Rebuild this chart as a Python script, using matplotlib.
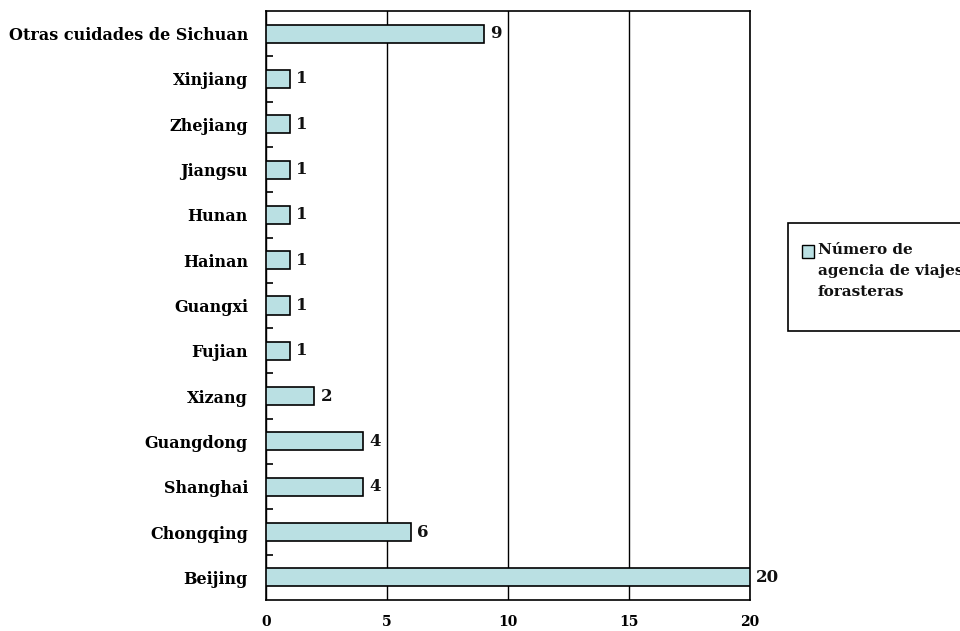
import matplotlib
matplotlib.use("Agg")
import matplotlib.pyplot as plt
from matplotlib.ticker import FixedLocator
from matplotlib.patches import Rectangle

categories = ["Beijing", "Chongqing", "Shanghai", "Guangdong", "Xizang", "Fujian",
              "Guangxi", "Hainan", "Hunan", "Jiangsu", "Zhejiang", "Xinjiang",
              "Otras cuidades de Sichuan"]
values = [20, 6, 4, 4, 2, 1, 1, 1, 1, 1, 1, 1, 9]
x_ticks = [0, 5, 10, 15, 20]
legend_label = "Número de\nagencia de viajes\nforasteras"

bar_color = "#bae0e3"
font = {"family": "DejaVu Serif", "weight": "bold"}

W, H = 960, 631
fig = plt.figure(figsize=(W / 100, H / 100), dpi=100)
ax = fig.add_axes([266 / W, 1 - 600 / H, (750 - 266) / W, (600 - 11) / H])

pos = list(range(len(categories)))
ax.barh(pos, values, height=0.4, color=bar_color, edgecolor="black", linewidth=1.2, zorder=3)
for p, v in zip(pos, values):
    ax.annotate(str(v), (v, p), xytext=(4.5, 0), textcoords="offset points",
                va="center", ha="left", fontsize=12, color="#111111", **font)

ax.set_xlim(0, 20)
ax.set_ylim(-0.5, len(categories) - 0.5)
ax.set_xticks(x_ticks)
ax.set_xticklabels([str(t) for t in x_ticks], fontsize=10, **font)
ax.tick_params(axis="x", length=0, pad=11)
ax.set_yticks(pos)
ax.set_yticklabels(categories, fontsize=11.5, **font)
ax.tick_params(axis="y", which="major", length=0, pad=13)
ax.yaxis.set_minor_locator(FixedLocator([p + 0.5 for p in pos[:-1]]))
ax.tick_params(axis="y", which="minor", direction="in", length=5, width=1.2)
ax.xaxis.grid(True, color="black", linewidth=1)
ax.set_axisbelow(True)
for s in ax.spines.values():
    s.set_linewidth(1.2)

# Legend box, drawn in figure pixel coordinates so it can run past the right edge
def fx(px):
    return px / W

def fy(py):
    return 1 - py / H

fig.patches.append(Rectangle((fx(788), fy(331)), fx(1010) - fx(788), fy(223) - fy(331),
                             transform=fig.transFigure, facecolor="white",
                             edgecolor="black", linewidth=1.2))
fig.patches.append(Rectangle((fx(802), fy(258)), fx(814) - fx(802), fy(245) - fy(258),
                             transform=fig.transFigure, facecolor=bar_color,
                             edgecolor="black", linewidth=1.0))
fig.text(fx(818), fy(243), legend_label, ha="left", va="top", fontsize=11,
         linespacing=1.62, color="#111111", **font)

fig.savefig("out.png", dpi=100)
